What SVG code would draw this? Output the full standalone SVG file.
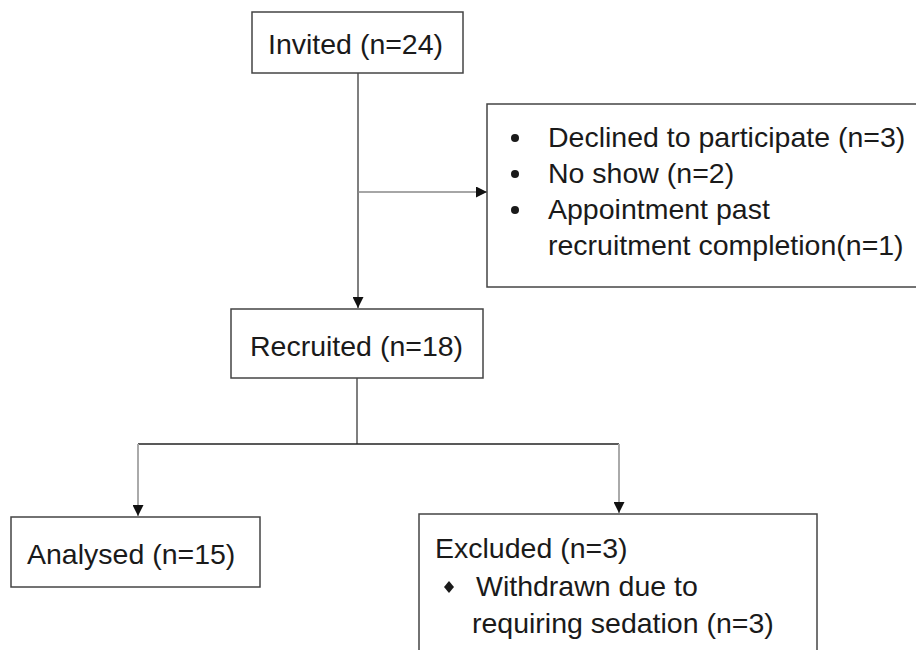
<svg xmlns="http://www.w3.org/2000/svg" width="916" height="650" viewBox="0 0 916 650">
<style>
.box{fill:#fff;stroke:#444;stroke-width:1.5}
.t{font-family:"Liberation Sans",Arial,sans-serif;font-size:28.5px;fill:#1a1a1a}
.ln{fill:none;stroke:#555;stroke-width:1.5}
.lg{fill:none;stroke:#aaa;stroke-width:2}
.ld{fill:none;stroke:#222;stroke-width:1.5}
</style>
<defs>
<marker id="ah" markerWidth="11" markerHeight="11" refX="11" refY="5.5" orient="auto" markerUnits="userSpaceOnUse">
<path d="M0,0 L11,5.5 L0,11 Z" fill="#111"/>
</marker>
</defs>
<rect width="916" height="650" fill="#fff"/>
<g id="connectors">
<path class="ln" d="M358,73 V308" marker-end="url(#ah)"/>
<path class="lg" d="M358,192 H487" marker-end="url(#ah)" style="stroke:#888;stroke-width:1.5"/>
<path class="ln" d="M357,378 V444"/>
<path class="ld" d="M138,444 H619"/>
<path class="lg" d="M138,444 V516" marker-end="url(#ah)"/>
<path class="lg" d="M619,444 V513" marker-end="url(#ah)"/>
</g>
<g id="invited">
<rect class="box" x="252" y="12" width="211" height="61"/>
<text class="t" x="268" y="54">Invited (n=24)</text>
</g>
<g id="exclusions">
<rect class="box" x="487" y="104" width="440" height="183"/>
<circle cx="515" cy="138" r="4" fill="#1a1a1a"/>
<circle cx="515" cy="174" r="4" fill="#1a1a1a"/>
<circle cx="515" cy="210" r="4" fill="#1a1a1a"/>
<text class="t" x="548" y="147">Declined to participate (n=3)</text>
<text class="t" x="548" y="183">No show (n=2)</text>
<text class="t" x="548" y="219">Appointment past</text>
<text class="t" x="548" y="255">recruitment completion(n=1)</text>
</g>
<g id="recruited">
<rect class="box" x="231" y="309" width="252" height="69"/>
<text class="t" x="250" y="356">Recruited (n=18)</text>
</g>
<g id="analysed">
<rect class="box" x="11" y="517" width="249" height="70"/>
<text class="t" x="27" y="564">Analysed (n=15)</text>
</g>
<g id="excluded">
<rect class="box" x="419" y="514" width="398" height="150"/>
<text class="t" x="435" y="558">Excluded (n=3)</text>
<path d="M449,581 L454,587 L449,593 L444,587 Z" fill="#1a1a1a"/>
<text class="t" x="476" y="596">Withdrawn due to</text>
<text class="t" x="472" y="633">requiring sedation (n=3)</text>
</g>
</svg>
